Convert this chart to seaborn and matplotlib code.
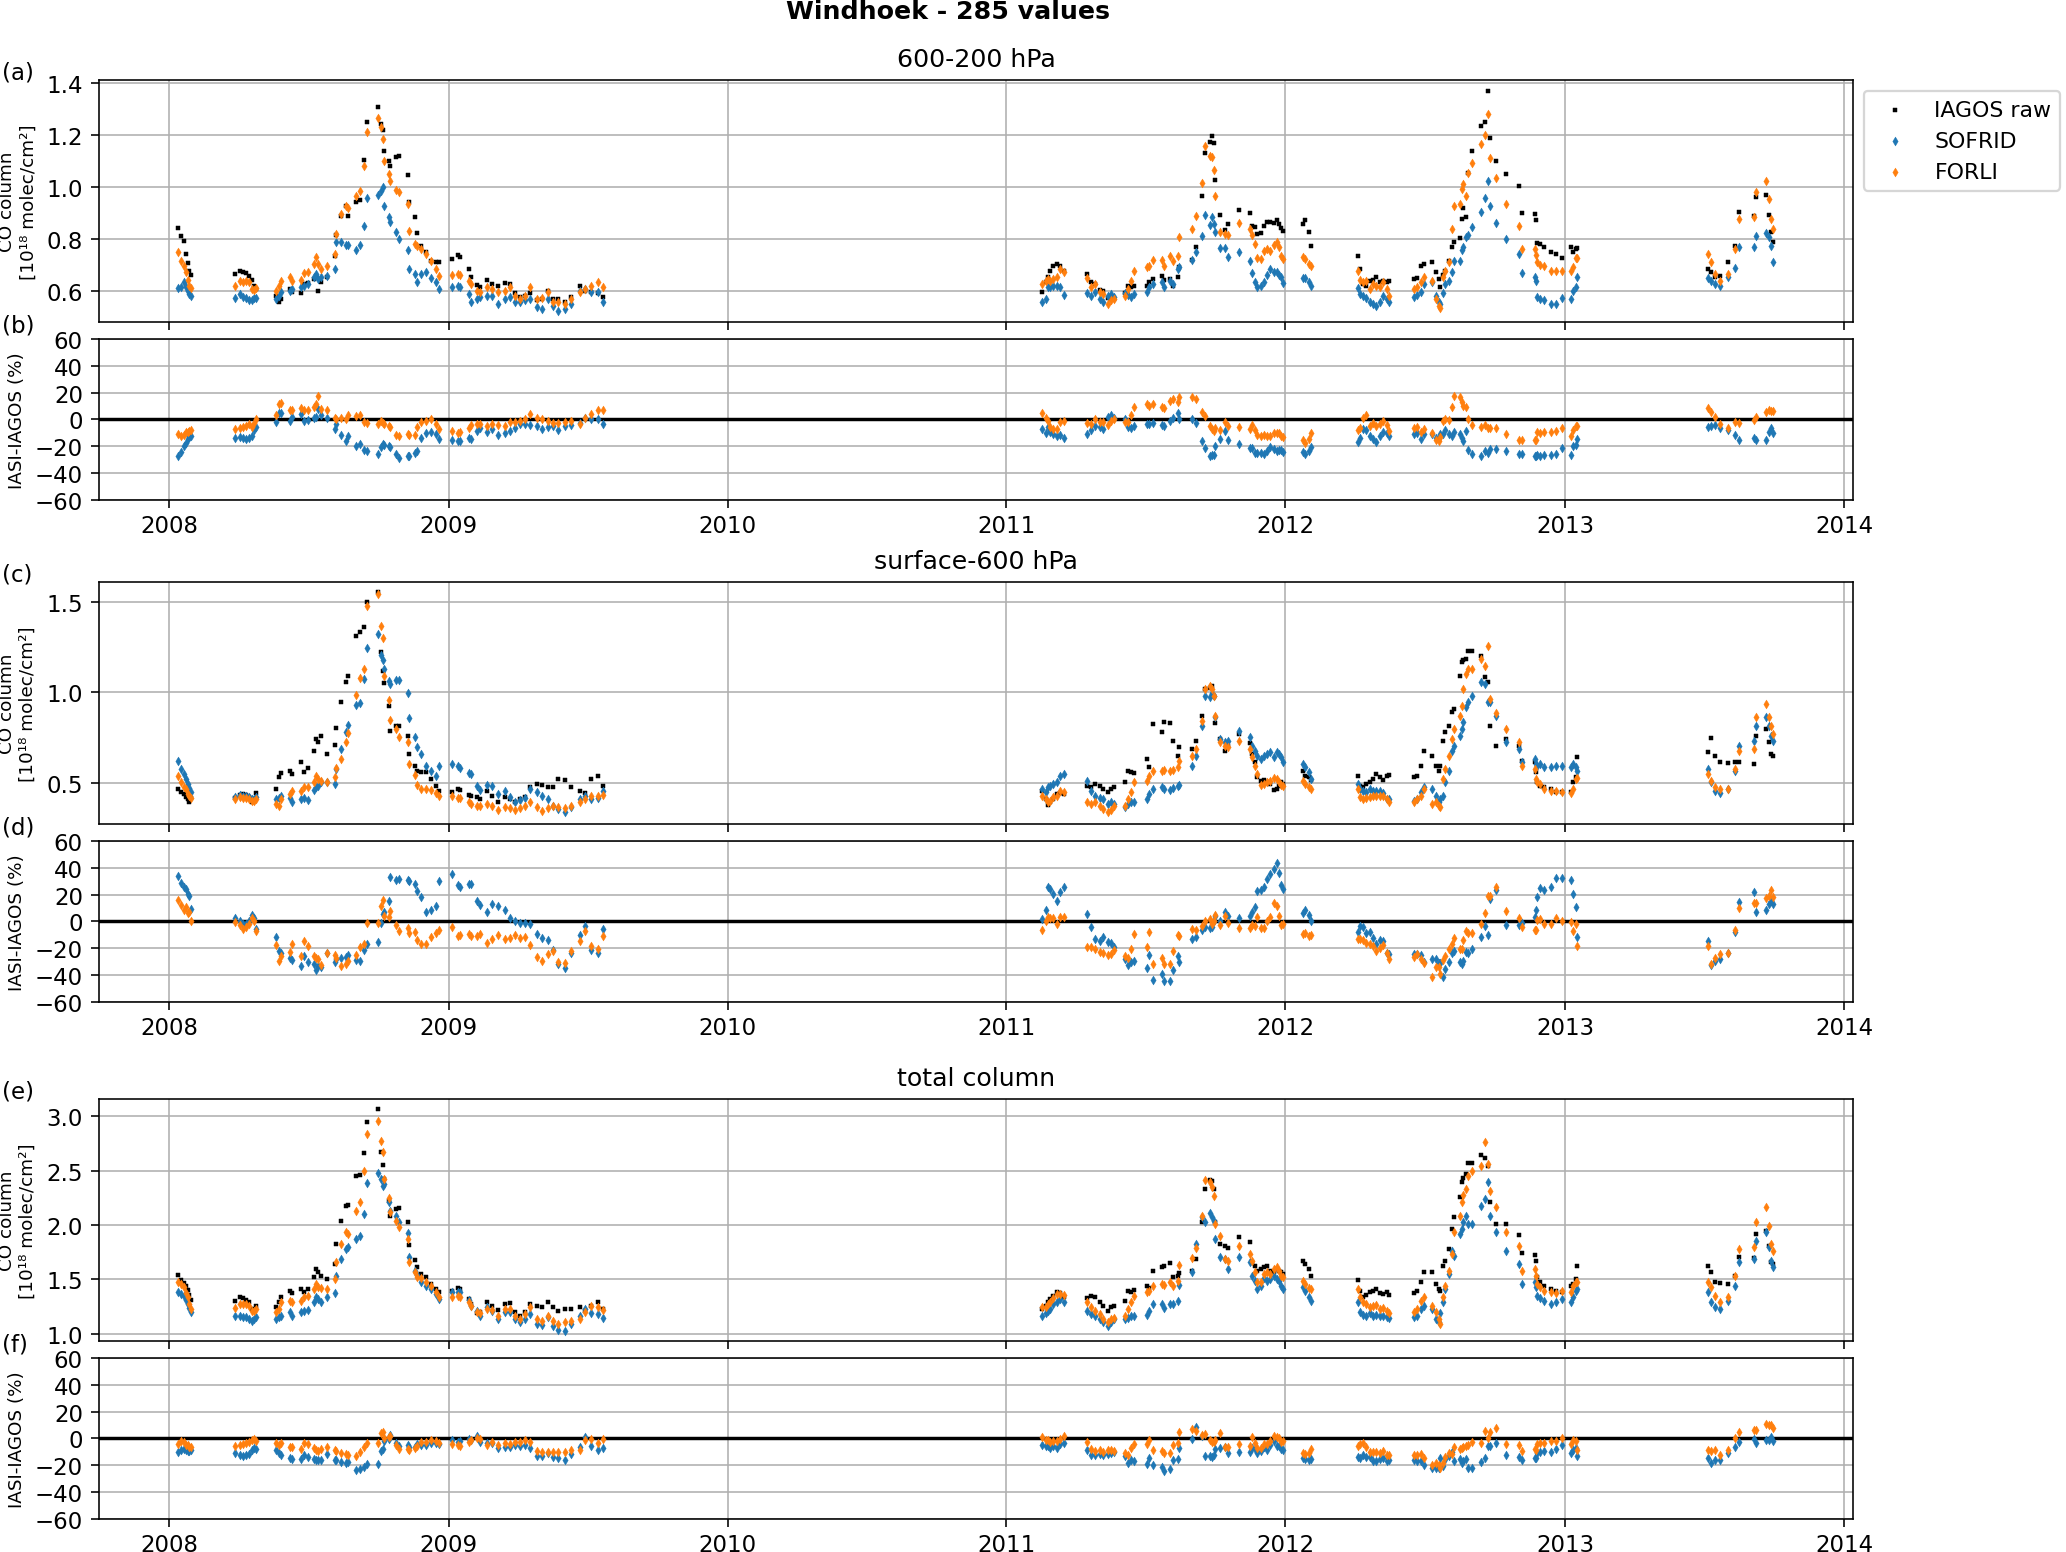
import numpy as np
import pandas as pd
import matplotlib
matplotlib.use('Agg')
import matplotlib.pyplot as plt
import matplotlib.dates as mdates
import seaborn as sns

# Decimal year of each co-located profile
year = [2008.033, 2008.045, 2008.054, 2008.061, 2008.067, 2008.073, 2008.079,
        2008.238, 2008.254, 2008.266, 2008.278, 2008.287, 2008.296, 2008.304, 2008.311,
        2008.385, 2008.393, 2008.403, 2008.433, 2008.441, 2008.472, 2008.484, 2008.498, 2008.520, 2008.528,
        2008.536, 2008.546, 2008.565, 2008.594, 2008.597, 2008.617, 2008.635, 2008.641, 2008.671, 2008.683,
        2008.698, 2008.709, 2008.749, 2008.760, 2008.766, 2008.770, 2008.788, 2008.793, 2008.814, 2008.826,
        2008.856, 2008.862, 2008.883, 2008.889, 2008.904, 2008.921, 2008.939, 2008.957, 2008.969,
        2009.014, 2009.035, 2009.041, 2009.073, 2009.080, 2009.100, 2009.112, 2009.136, 2009.154, 2009.178,
        2009.201, 2009.219, 2009.237, 2009.255, 2009.273, 2009.291, 2009.315, 2009.333, 2009.356, 2009.374,
        2009.392, 2009.416, 2009.440, 2009.470, 2009.487, 2009.511, 2009.535, 2009.553,
        2011.126, 2011.140, 2011.150, 2011.157, 2011.167, 2011.181, 2011.192, 2011.205,
        2011.287, 2011.301, 2011.317, 2011.334, 2011.347, 2011.363, 2011.376, 2011.386,
        2011.424, 2011.434, 2011.447, 2011.457,
        2011.502, 2011.512, 2011.525, 2011.557, 2011.566, 2011.584, 2011.595, 2011.613, 2011.618,
        2011.666, 2011.680, 2011.702, 2011.711, 2011.728, 2011.735, 2011.744, 2011.748, 2011.766, 2011.782, 2011.793,
        2011.833, 2011.871, 2011.881, 2011.889, 2011.899, 2011.910, 2011.922, 2011.933, 2011.943, 2011.960,
        2011.970, 2011.978, 2011.985, 2011.990,
        2012.063, 2012.070, 2012.083, 2012.090,
        2012.261, 2012.268, 2012.278, 2012.289, 2012.302, 2012.313, 2012.326, 2012.337, 2012.350, 2012.364, 2012.371,
        2012.460, 2012.473, 2012.487, 2012.497, 2012.525, 2012.539, 2012.549, 2012.555, 2012.565, 2012.573,
        2012.587, 2012.598, 2012.603, 2012.624, 2012.631, 2012.637, 2012.647, 2012.653, 2012.669, 2012.702,
        2012.715, 2012.724, 2012.733, 2012.754,
        2012.789, 2012.836, 2012.847, 2012.893, 2012.897, 2012.901, 2012.911, 2012.925, 2012.952, 2012.970,
        2012.989, 2013.021, 2013.027, 2013.038, 2013.044,
        2013.512, 2013.524, 2013.537, 2013.556, 2013.585, 2013.610, 2013.622, 2013.676, 2013.683, 2013.720,
        2013.732, 2013.739, 2013.744]

# 600-200 hPa partial columns (1e18 molec/cm2)
a_iagos = [0.841, 0.809, 0.790, 0.740, 0.705, 0.677, 0.659,
           0.664, 0.677, 0.671, 0.668, 0.655, 0.642, 0.619, 0.606,
           0.581, 0.555, 0.568, 0.606, 0.594, 0.591, 0.626, 0.629, 0.645, 0.651, 0.600, 0.632, 0.651, 0.735, 0.815,
           0.888, 0.924, 0.888, 0.942, 0.950, 1.104, 1.247, 1.305, 1.241, 1.219, 1.137, 1.100, 1.081, 1.113, 1.117,
           1.046, 0.940, 0.882, 0.822, 0.773, 0.747, 0.715, 0.709, 0.709,
           0.722, 0.738, 0.728, 0.683, 0.651, 0.622, 0.613, 0.642, 0.626, 0.619, 0.629, 0.626, 0.591, 0.574,
           0.581, 0.591, 0.562, 0.568, 0.600, 0.568, 0.568, 0.558, 0.574, 0.617, 0.600, 0.594, 0.591, 0.574,
           0.596, 0.632, 0.651, 0.677, 0.696, 0.703, 0.696, 0.677,
           0.662, 0.632, 0.626, 0.604, 0.600, 0.571, 0.568, 0.568,
           0.591, 0.617, 0.613, 0.619,
           0.619, 0.632, 0.645, 0.658, 0.642, 0.645, 0.619, 0.651, 0.690,
           0.719, 0.769, 0.963, 1.128, 1.173, 1.196, 1.168, 1.027, 0.891, 0.832, 0.856,
           0.912, 0.900, 0.850, 0.844, 0.818, 0.822, 0.850, 0.863, 0.863, 0.860, 0.873, 0.856, 0.840, 0.830,
           0.856, 0.873, 0.824, 0.773,
           0.735, 0.683, 0.626, 0.619, 0.635, 0.642, 0.651, 0.632, 0.638, 0.632, 0.638,
           0.645, 0.647, 0.696, 0.703, 0.709, 0.673, 0.645, 0.613, 0.660, 0.677, 0.712, 0.767, 0.788, 0.801,
           0.876, 0.917, 0.882, 1.051, 1.138, 1.235, 1.247, 1.369, 1.186, 1.100,
           1.049, 1.001, 0.899, 0.895, 0.873, 0.783, 0.779, 0.767, 0.747, 0.741, 0.724, 0.769, 0.747, 0.760, 0.763,
           0.683, 0.670, 0.651, 0.658, 0.709, 0.773, 0.901, 0.888, 0.959, 0.968, 0.891, 0.824, 0.786]
a_sofrid = [0.610, 0.613, 0.632, 0.613, 0.600, 0.587, 0.578,
            0.573, 0.587, 0.577, 0.571, 0.565, 0.562, 0.571, 0.573,
            0.568, 0.581, 0.594, 0.600, 0.606, 0.613, 0.619, 0.626, 0.651, 0.664, 0.645, 0.651, 0.658, 0.683, 0.786,
            0.786, 0.776, 0.776, 0.756, 0.777, 0.850, 0.955, 0.968, 0.985, 1.000, 0.924, 0.882, 0.863, 0.827, 0.799,
            0.758, 0.683, 0.664, 0.632, 0.664, 0.671, 0.647, 0.632, 0.606,
            0.613, 0.619, 0.613, 0.587, 0.558, 0.568, 0.574, 0.581, 0.581, 0.549, 0.568, 0.574, 0.555, 0.555,
            0.562, 0.568, 0.536, 0.529, 0.568, 0.542, 0.523, 0.529, 0.549, 0.600, 0.606, 0.596, 0.594, 0.555,
            0.555, 0.568, 0.613, 0.613, 0.619, 0.619, 0.613, 0.583,
            0.591, 0.581, 0.596, 0.568, 0.558, 0.581, 0.587, 0.574,
            0.591, 0.583, 0.574, 0.587,
            0.596, 0.613, 0.626, 0.632, 0.613, 0.638, 0.626, 0.683, 0.690,
            0.719, 0.747, 0.809, 0.892, 0.853, 0.882, 0.856, 0.827, 0.763, 0.763, 0.728,
            0.747, 0.712, 0.668, 0.632, 0.613, 0.619, 0.632, 0.660, 0.683, 0.673, 0.671, 0.660, 0.651, 0.629,
            0.647, 0.647, 0.632, 0.617,
            0.609, 0.587, 0.581, 0.571, 0.558, 0.549, 0.540, 0.555, 0.578, 0.568, 0.558,
            0.577, 0.583, 0.594, 0.626, 0.632, 0.581, 0.555, 0.549, 0.591, 0.626, 0.636, 0.673, 0.715, 0.715,
            0.758, 0.767, 0.805, 0.814, 0.844, 0.901, 0.955, 1.023, 0.924, 0.860,
            0.799, 0.741, 0.668, 0.651, 0.638, 0.574, 0.568, 0.562, 0.549, 0.549, 0.571, 0.568, 0.600, 0.613, 0.651,
            0.647, 0.638, 0.626, 0.617, 0.651, 0.686, 0.766, 0.766, 0.809, 0.822, 0.805, 0.773, 0.709]
a_forli = [0.747, 0.712, 0.696, 0.671, 0.641, 0.619, 0.609,
           0.617, 0.635, 0.632, 0.638, 0.632, 0.606, 0.604, 0.609,
           0.600, 0.619, 0.638, 0.651, 0.638, 0.642, 0.668, 0.673, 0.703, 0.728, 0.703, 0.683, 0.696, 0.741, 0.818,
           0.895, 0.924, 0.917, 0.965, 0.985, 1.081, 1.212, 1.263, 1.228, 1.183, 1.100, 1.049, 1.023, 0.988, 0.981,
           0.933, 0.831, 0.779, 0.773, 0.760, 0.741, 0.715, 0.683, 0.658,
           0.660, 0.664, 0.660, 0.638, 0.626, 0.600, 0.594, 0.613, 0.606, 0.594, 0.600, 0.613, 0.581, 0.568,
           0.581, 0.613, 0.568, 0.571, 0.594, 0.555, 0.555, 0.549, 0.568, 0.596, 0.606, 0.619, 0.632, 0.613,
           0.626, 0.638, 0.645, 0.638, 0.645, 0.651, 0.683, 0.671,
           0.647, 0.613, 0.626, 0.594, 0.587, 0.549, 0.562, 0.568,
           0.578, 0.606, 0.635, 0.677,
           0.690, 0.696, 0.719, 0.719, 0.696, 0.735, 0.715, 0.735, 0.805,
           0.837, 0.888, 1.014, 1.155, 1.117, 1.113, 1.065, 0.963, 0.824, 0.818, 0.812,
           0.860, 0.837, 0.812, 0.779, 0.724, 0.721, 0.754, 0.760, 0.754, 0.776, 0.786, 0.767, 0.735, 0.722,
           0.728, 0.722, 0.703, 0.696,
           0.677, 0.642, 0.632, 0.638, 0.606, 0.626, 0.619, 0.613, 0.632, 0.606, 0.581,
           0.606, 0.613, 0.632, 0.651, 0.638, 0.568, 0.542, 0.532, 0.651, 0.677, 0.709, 0.837, 0.927, 0.933,
           0.991, 1.010, 0.963, 1.053, 1.090, 1.164, 1.199, 1.281, 1.109, 1.032,
           0.933, 0.850, 0.760, 0.760, 0.737, 0.709, 0.699, 0.696, 0.677, 0.677, 0.677, 0.677, 0.690, 0.724, 0.724,
           0.741, 0.709, 0.664, 0.638, 0.664, 0.760, 0.875, 0.882, 0.978, 1.022, 0.952, 0.875, 0.837]

# surface-600 hPa partial columns
c_iagos = [0.465, 0.447, 0.437, 0.419, 0.410, 0.395, 0.413,
           0.413, 0.432, 0.437, 0.432, 0.419, 0.391, 0.400, 0.443,
           0.465, 0.530, 0.554, 0.566, 0.548, 0.613, 0.557, 0.579, 0.677, 0.742, 0.723, 0.760, 0.659, 0.710, 0.800,
           0.945, 1.055, 1.092, 1.310, 1.332, 1.360, 1.498, 1.557, 1.221, 1.120, 1.052, 0.926, 0.788, 0.816, 0.812,
           0.760, 0.659, 0.590, 0.566, 0.557, 0.557, 0.520, 0.483, 0.456,
           0.446, 0.465, 0.461, 0.432, 0.428, 0.419, 0.410, 0.456, 0.428, 0.391, 0.419, 0.410, 0.391, 0.410,
           0.419, 0.474, 0.493, 0.487, 0.474, 0.474, 0.520, 0.517, 0.474, 0.456, 0.443, 0.520, 0.539, 0.483,
           0.456, 0.410, 0.378, 0.390, 0.410, 0.437, 0.443, 0.437,
           0.483, 0.474, 0.493, 0.483, 0.465, 0.450, 0.465, 0.474,
           0.502, 0.566, 0.561, 0.554,
           0.631, 0.585, 0.825, 0.779, 0.834, 0.830, 0.733, 0.649, 0.696,
           0.686, 0.733, 0.871, 1.018, 1.022, 1.037, 0.982, 0.830, 0.742, 0.677, 0.705,
           0.769, 0.720, 0.659, 0.613, 0.530, 0.511, 0.517, 0.502, 0.493, 0.461, 0.465, 0.483, 0.502, 0.493,
           0.566, 0.539, 0.530, 0.517,
           0.535, 0.483, 0.474, 0.493, 0.506, 0.520, 0.548, 0.530, 0.517, 0.535, 0.542,
           0.530, 0.539, 0.594, 0.677, 0.649, 0.594, 0.566, 0.594, 0.733, 0.779, 0.815, 0.889, 0.908, 1.092,
           1.166, 1.181, 1.185, 1.231, 1.231, 1.203, 1.083, 1.055, 0.812, 0.705,
           0.742, 0.705, 0.622, 0.613, 0.557, 0.502, 0.483, 0.474, 0.465, 0.446, 0.450, 0.446, 0.502, 0.530, 0.640,
           0.672, 0.745, 0.649, 0.613, 0.609, 0.613, 0.616, 0.603, 0.760, 0.797, 0.723, 0.659, 0.649]
c_sofrid = [0.622, 0.576, 0.548, 0.520, 0.493, 0.469, 0.450,
            0.422, 0.432, 0.428, 0.424, 0.419, 0.410, 0.410, 0.419,
            0.410, 0.413, 0.424, 0.413, 0.391, 0.410, 0.413, 0.406, 0.461, 0.474, 0.483, 0.502, 0.502, 0.493, 0.576,
            0.686, 0.779, 0.819, 0.930, 0.941, 1.074, 1.244, 1.323, 1.207, 1.181, 1.129, 1.065, 1.046, 1.070, 1.070,
            0.996, 0.856, 0.755, 0.696, 0.659, 0.594, 0.566, 0.539, 0.594,
            0.603, 0.590, 0.579, 0.554, 0.548, 0.483, 0.461, 0.487, 0.483, 0.437, 0.456, 0.419, 0.391, 0.406,
            0.413, 0.465, 0.446, 0.428, 0.410, 0.373, 0.354, 0.339, 0.363, 0.410, 0.428, 0.410, 0.413, 0.456,
            0.465, 0.446, 0.474, 0.483, 0.493, 0.502, 0.539, 0.548,
            0.511, 0.456, 0.428, 0.413, 0.410, 0.382, 0.391, 0.382,
            0.363, 0.382, 0.391, 0.391,
            0.410, 0.437, 0.465, 0.474, 0.465, 0.461, 0.469, 0.483, 0.487,
            0.594, 0.649, 0.815, 0.978, 0.972, 0.996, 0.982, 0.862, 0.742, 0.723, 0.733,
            0.788, 0.751, 0.705, 0.677, 0.649, 0.631, 0.649, 0.659, 0.668, 0.640, 0.668, 0.659, 0.640, 0.613,
            0.603, 0.585, 0.557, 0.520,
            0.493, 0.465, 0.456, 0.450, 0.465, 0.456, 0.456, 0.456, 0.443, 0.410, 0.410,
            0.400, 0.410, 0.446, 0.474, 0.465, 0.428, 0.391, 0.410, 0.428, 0.502, 0.566, 0.677, 0.705, 0.760,
            0.797, 0.834, 0.917, 0.945, 0.978, 1.059, 1.046, 0.945, 0.945, 0.871,
            0.723, 0.686, 0.616, 0.631, 0.603, 0.594, 0.603, 0.585, 0.585, 0.590, 0.594, 0.585, 0.603, 0.585, 0.566,
            0.576, 0.502, 0.456, 0.443, 0.465, 0.566, 0.705, 0.733, 0.815, 0.862, 0.815, 0.760, 0.733]
c_forli = [0.539, 0.502, 0.474, 0.465, 0.437, 0.424, 0.413,
           0.410, 0.419, 0.413, 0.413, 0.410, 0.400, 0.400, 0.410,
           0.382, 0.373, 0.410, 0.437, 0.456, 0.456, 0.474, 0.474, 0.502, 0.539, 0.520, 0.511, 0.506, 0.530, 0.579,
           0.631, 0.723, 0.773, 0.985, 1.079, 1.129, 1.480, 1.544, 1.365, 1.300, 1.092, 0.959, 0.847, 0.797, 0.751,
           0.723, 0.603, 0.542, 0.487, 0.465, 0.465, 0.461, 0.443, 0.428,
           0.428, 0.413, 0.413, 0.391, 0.382, 0.373, 0.373, 0.382, 0.373, 0.351, 0.363, 0.358, 0.351, 0.358,
           0.369, 0.391, 0.363, 0.345, 0.358, 0.369, 0.363, 0.358, 0.369, 0.391, 0.410, 0.424, 0.428, 0.432,
           0.428, 0.410, 0.391, 0.400, 0.419, 0.428, 0.456, 0.450,
           0.391, 0.382, 0.391, 0.373, 0.354, 0.336, 0.351, 0.373,
           0.373, 0.410, 0.446, 0.502,
           0.511, 0.539, 0.566, 0.566, 0.570, 0.566, 0.572, 0.585, 0.622,
           0.649, 0.686, 0.843, 1.018, 1.037, 1.018, 0.982, 0.871, 0.723, 0.705, 0.696,
           0.733, 0.686, 0.640, 0.594, 0.548, 0.487, 0.493, 0.502, 0.511, 0.524, 0.520, 0.502, 0.487, 0.483,
           0.511, 0.493, 0.474, 0.465,
           0.465, 0.419, 0.410, 0.413, 0.419, 0.424, 0.428, 0.424, 0.428, 0.410, 0.391,
           0.391, 0.410, 0.428, 0.465, 0.382, 0.391, 0.373, 0.363, 0.520, 0.576, 0.649, 0.742, 0.797, 0.871,
           0.926, 1.018, 1.101, 1.129, 1.129, 1.184, 1.148, 1.258, 0.963, 0.886,
           0.797, 0.723, 0.594, 0.576, 0.520, 0.506, 0.493, 0.465, 0.456, 0.456, 0.450, 0.443, 0.465, 0.520, 0.524,
           0.548, 0.511, 0.474, 0.465, 0.465, 0.576, 0.677, 0.686, 0.862, 0.935, 0.862, 0.815, 0.769]

# total columns
e_iagos = [1.540, 1.490, 1.470, 1.440, 1.400, 1.360, 1.310,
           1.304, 1.334, 1.325, 1.313, 1.288, 1.227, 1.221, 1.252,
           1.242, 1.288, 1.334, 1.396, 1.374, 1.411, 1.380, 1.411, 1.518, 1.595, 1.571, 1.534, 1.503, 1.641, 1.825,
           2.040, 2.178, 2.184, 2.454, 2.460, 2.663, 2.945, 3.067, 2.669, 2.552, 2.423, 2.224, 2.080, 2.147, 2.153,
           2.031, 1.816, 1.681, 1.610, 1.549, 1.518, 1.457, 1.411, 1.380,
           1.396, 1.417, 1.411, 1.319, 1.273, 1.190, 1.196, 1.288, 1.258, 1.221, 1.273, 1.282, 1.196, 1.166,
           1.196, 1.273, 1.252, 1.242, 1.294, 1.242, 1.212, 1.227, 1.227, 1.242, 1.212, 1.258, 1.288, 1.227,
           1.227, 1.258, 1.288, 1.319, 1.350, 1.387, 1.374, 1.334,
           1.325, 1.350, 1.334, 1.288, 1.258, 1.212, 1.242, 1.258,
           1.304, 1.396, 1.387, 1.405,
           1.442, 1.417, 1.580, 1.610, 1.626, 1.650, 1.518, 1.534, 1.558,
           1.580, 1.687, 2.031, 2.331, 2.417, 2.408, 2.331, 2.025, 1.825, 1.804, 1.785,
           1.887, 1.840, 1.656, 1.620, 1.580, 1.595, 1.610, 1.626, 1.580, 1.564, 1.595, 1.580, 1.571, 1.549,
           1.672, 1.641, 1.595, 1.534,
           1.497, 1.396, 1.334, 1.356, 1.380, 1.396, 1.411, 1.374, 1.365, 1.380, 1.356,
           1.374, 1.396, 1.479, 1.564, 1.571, 1.457, 1.411, 1.396, 1.626, 1.672, 1.779, 1.963, 2.071, 2.255,
           2.393, 2.429, 2.469, 2.571, 2.571, 2.644, 2.613, 2.546, 2.209, 2.009,
           2.009, 1.908, 1.742, 1.724, 1.672, 1.518, 1.479, 1.442, 1.411, 1.396, 1.387, 1.442, 1.457, 1.503, 1.620,
           1.620, 1.571, 1.479, 1.466, 1.457, 1.534, 1.702, 1.693, 1.917, 1.948, 1.810, 1.656, 1.641]
e_sofrid = [1.387, 1.365, 1.350, 1.313, 1.273, 1.233, 1.202,
            1.166, 1.166, 1.150, 1.150, 1.135, 1.120, 1.135, 1.150,
            1.135, 1.150, 1.166, 1.196, 1.166, 1.196, 1.212, 1.221, 1.288, 1.334, 1.319, 1.288, 1.334, 1.374, 1.528,
            1.687, 1.779, 1.794, 1.871, 1.902, 2.101, 2.387, 2.479, 2.423, 2.356, 2.377, 2.215, 2.132, 2.080, 2.025,
            1.926, 1.702, 1.580, 1.540, 1.472, 1.442, 1.411, 1.365, 1.319,
            1.380, 1.380, 1.387, 1.313, 1.258, 1.212, 1.166, 1.242, 1.212, 1.135, 1.196, 1.196, 1.135, 1.104,
            1.135, 1.181, 1.089, 1.080, 1.150, 1.074, 1.037, 1.028, 1.089, 1.166, 1.227, 1.190, 1.181, 1.141,
            1.166, 1.190, 1.212, 1.227, 1.273, 1.288, 1.319, 1.288,
            1.212, 1.181, 1.166, 1.135, 1.104, 1.074, 1.104, 1.135,
            1.135, 1.141, 1.166, 1.166,
            1.172, 1.212, 1.273, 1.273, 1.233, 1.273, 1.273, 1.304, 1.448,
            1.571, 1.825, 2.071, 2.031, 2.110, 2.071, 2.040, 1.871, 1.702, 1.687, 1.595,
            1.702, 1.656, 1.534, 1.488, 1.411, 1.442, 1.509, 1.488, 1.503, 1.534, 1.503, 1.488, 1.442, 1.411,
            1.426, 1.396, 1.334, 1.304,
            1.288, 1.196, 1.172, 1.166, 1.190, 1.160, 1.172, 1.166, 1.166, 1.150, 1.141,
            1.150, 1.166, 1.227, 1.258, 1.227, 1.135, 1.104, 1.190, 1.288, 1.411, 1.549, 1.764, 1.718, 1.917,
            1.963, 2.025, 2.086, 2.009, 2.009, 2.178, 2.239, 2.399, 2.080, 1.939,
            1.764, 1.641, 1.457, 1.472, 1.426, 1.350, 1.325, 1.304, 1.273, 1.288, 1.319, 1.288, 1.334, 1.396, 1.411,
            1.380, 1.288, 1.242, 1.227, 1.304, 1.442, 1.656, 1.687, 1.856, 1.933, 1.794, 1.672, 1.610]
e_forli = [1.479, 1.457, 1.426, 1.374, 1.334, 1.273, 1.227,
           1.233, 1.273, 1.273, 1.273, 1.258, 1.212, 1.212, 1.227,
           1.202, 1.227, 1.288, 1.304, 1.288, 1.304, 1.334, 1.350, 1.411, 1.457, 1.426, 1.417, 1.411, 1.503, 1.656,
           1.825, 1.933, 1.917, 2.132, 2.215, 2.500, 2.837, 2.960, 2.776, 2.669, 2.423, 2.245, 2.123, 2.040, 1.979,
           1.871, 1.656, 1.564, 1.518, 1.509, 1.479, 1.436, 1.380, 1.334,
           1.334, 1.344, 1.334, 1.288, 1.258, 1.196, 1.190, 1.227, 1.221, 1.160, 1.227, 1.227, 1.166, 1.135,
           1.181, 1.242, 1.135, 1.120, 1.166, 1.120, 1.089, 1.104, 1.120, 1.135, 1.196, 1.252, 1.242, 1.221,
           1.242, 1.242, 1.273, 1.288, 1.325, 1.365, 1.365, 1.356,
           1.288, 1.242, 1.212, 1.181, 1.135, 1.104, 1.135, 1.141,
           1.166, 1.227, 1.288, 1.350,
           1.380, 1.396, 1.442, 1.457, 1.448, 1.472, 1.442, 1.488, 1.632,
           1.693, 1.785, 2.086, 2.417, 2.393, 2.347, 2.264, 2.009, 1.902, 1.687, 1.672,
           1.810, 1.733, 1.672, 1.571, 1.472, 1.479, 1.549, 1.564, 1.549, 1.595, 1.610, 1.580, 1.534, 1.518,
           1.488, 1.457, 1.417, 1.411,
           1.411, 1.334, 1.288, 1.273, 1.242, 1.252, 1.264, 1.227, 1.233, 1.212, 1.190,
           1.202, 1.227, 1.304, 1.334, 1.258, 1.196, 1.135, 1.089, 1.334, 1.442, 1.580, 1.733, 1.933, 2.086,
           2.215, 2.276, 2.331, 2.448, 2.500, 2.546, 2.767, 2.561, 2.316, 2.163,
           1.933, 1.810, 1.580, 1.595, 1.534, 1.457, 1.426, 1.396, 1.380, 1.374, 1.396, 1.380, 1.442, 1.479, 1.479,
           1.479, 1.426, 1.350, 1.288, 1.334, 1.534, 1.779, 1.794, 2.031, 2.163, 1.994, 1.825, 1.764]


def to_date(y):
    y0 = int(y)
    return pd.Timestamp(y0, 1, 1) + pd.Timedelta(days=(y - y0) * 365.25)


dates = [to_date(y) for y in year]

plt.rcParams['font.size'] = 10
plt.rcParams['axes.linewidth'] = 0.7
plt.rcParams['grid.color'] = '#b0b0b0'
plt.rcParams['grid.linewidth'] = 0.7
plt.rcParams['xtick.major.width'] = 0.7
plt.rcParams['ytick.major.width'] = 0.7

fig = plt.figure(figsize=(12.527, 9.412), dpi=165)
fig.text(0.4586, 0.9923, 'Windhoek - 285 values', ha='center', va='center',
         fontsize=11, fontweight='bold')

blue = '#1f77b4'
orange = '#ff7f0e'
left, width = 0.0479, 0.8486
# (title, iagos, sofrid, forli, ylim, yticks, top bottom, diff bottom, labels, label y px)
panels = [
    ('600-200 hPa', a_iagos, a_sofrid, a_forli, (0.479, 1.41), [0.6, 0.8, 1.0, 1.2, 1.4],
     0.7920, 0.6774, ('(a)', '(b)'), (73, 326)),
    ('surface-600 hPa', c_iagos, c_sofrid, c_forli, (0.271, 1.611), [0.5, 1.0, 1.5],
     0.4688, 0.3542, ('(c)', '(d)'), (575, 828)),
    ('total column', e_iagos, e_sofrid, e_forli, (0.933, 3.16), [1.0, 1.5, 2.0, 2.5, 3.0],
     0.1359, 0.02125, ('(e)', '(f)'), (1092, 1345)),
]

xlim = (to_date(2007.749), to_date(2014.032))
sq = dict(marker='s', s=4.5, linewidth=0.2, legend=False)
dm = dict(marker='d', s=7.5, linewidth=0.2, legend=False)

for i, (title, iag, sof, forl, ylim, yt, b_top, b_dif, labs, lab_y) in enumerate(panels):
    iag = np.array(iag)
    sof = np.array(sof)
    forl = np.array(forl)

    ax = fig.add_axes([left, b_top, width, 0.1558])
    ax.set_axisbelow(True)
    ax.grid(True)
    sns.scatterplot(x=dates, y=iag, ax=ax, color='k', edgecolor='k',
                    label='IAGOS raw' if i == 0 else None, **sq)
    sns.scatterplot(x=dates, y=sof, ax=ax, color=blue, edgecolor=blue,
                    label='SOFRID' if i == 0 else None, **dm)
    sns.scatterplot(x=dates, y=forl, ax=ax, color=orange, edgecolor=orange,
                    label='FORLI' if i == 0 else None, **dm)
    ax.set_xlim(xlim)
    ax.set_ylim(ylim)
    ax.set_yticks(yt)
    ax.xaxis.set_major_locator(mdates.YearLocator())
    ax.xaxis.set_major_formatter(mdates.DateFormatter('%Y'))
    ax.tick_params(labelbottom=False)
    ax.set_title(title, fontsize=11)
    ax.set_ylabel('CO column\n[10¹⁸ molec/cm²]', fontsize=8)
    if i == 0:
        ax.legend(loc='upper left', bbox_to_anchor=(1.0, 1.0), fontsize=9.6)

    axd = fig.add_axes([left, b_dif, width, 0.1037])
    axd.set_axisbelow(True)
    axd.grid(True)
    d_sof = (sof - iag) / iag * 100
    d_for = (forl - iag) / iag * 100
    axd.axhline(0, color='k', lw=1.5, zorder=1)
    sns.scatterplot(x=dates, y=d_sof, ax=axd, color=blue, edgecolor=blue, **dm)
    sns.scatterplot(x=dates, y=d_for, ax=axd, color=orange, edgecolor=orange, **dm)
    axd.set_xlim(xlim)
    axd.set_ylim(-60, 60)
    axd.set_yticks([-60, -40, -20, 0, 20, 40, 60])
    axd.xaxis.set_major_locator(mdates.YearLocator())
    axd.xaxis.set_major_formatter(mdates.DateFormatter('%Y'))
    axd.tick_params(axis='x', pad=2.5)
    axd.set_ylabel('IASI-IAGOS (%)', fontsize=8)

    for lab, yy in zip(labs, lab_y):
        fig.text(0.001, 1 - yy / 1553, lab, ha='left', va='center', fontsize=10)

fig.savefig('out.png', dpi=165)
